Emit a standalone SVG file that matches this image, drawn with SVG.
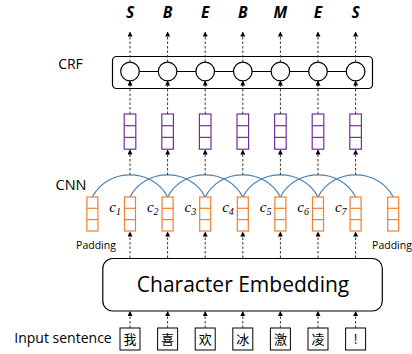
<svg xmlns="http://www.w3.org/2000/svg" width="412" height="354" viewBox="0 0 412 354">
<defs>
<marker id="ah" markerUnits="userSpaceOnUse" markerWidth="5" markerHeight="5" refX="4.5" refY="2.5" orient="auto">
<path d="M0,0 L5,2.5 L0,5 z" fill="#000"/>
</marker>
<style>
.lbl{font-family:"Open Sans","Liberation Sans",sans-serif;fill:#000}
.tag{font-family:"Open Sans","Liberation Sans",sans-serif;font-weight:bold;font-style:italic;font-size:15.5px;text-anchor:middle}
.dash{stroke:#333;stroke-width:1;stroke-dasharray:2.5,2;fill:none;marker-end:url(#ah)}
.arc{stroke:#4a7eb0;stroke-width:1.1;fill:none}
.orange{fill:#fff;stroke:#f07f2e;stroke-width:1.2}
.purple{fill:#fff;stroke:#7030a0;stroke-width:1.2}
.circ{fill:#fff;stroke:#000;stroke-width:1.2}
.cbox{fill:#fff;stroke:#000;stroke-width:1}
.ch{font-family:"Noto Sans CJK SC",sans-serif;font-size:13px;text-anchor:middle}
.cl{font-family:"Liberation Serif",serif;font-style:italic;font-size:15px;text-anchor:end}
</style>
</defs>

<g id="labels">
<text class="lbl" x="70.5" y="68.5" font-size="14" text-anchor="middle">CRF</text>
<text class="lbl" x="71" y="190" font-size="14.5" text-anchor="middle">CNN</text>
<text class="lbl" x="96" y="249" font-size="10.5" text-anchor="middle">Padding</text>
<text class="lbl" x="392" y="249" font-size="10.5" text-anchor="middle">Padding</text>
<text class="lbl" x="63" y="343" font-size="14" text-anchor="middle">Input sentence</text>
</g>

<g id="tags">
<text class="tag" x="130" y="18">S</text>
<text class="tag" x="167.6" y="18">B</text>
<text class="tag" x="205.2" y="18">E</text>
<text class="tag" x="242.8" y="18">B</text>
<text class="tag" x="280.4" y="18">M</text>
<text class="tag" x="318" y="18">E</text>
<text class="tag" x="355.6" y="18">S</text>
</g>

<g id="crf">
<rect x="112.5" y="56.5" width="260" height="32" rx="4" fill="#fff" stroke="#000" stroke-width="1.2"/>
<line x1="130" y1="71.5" x2="355.6" y2="71.5" stroke="#000" stroke-width="1.2"/>
<circle class="circ" cx="130" cy="71.5" r="9.3"/>
<circle class="circ" cx="167.6" cy="71.5" r="9.3"/>
<circle class="circ" cx="205.2" cy="71.5" r="9.3"/>
<circle class="circ" cx="242.8" cy="71.5" r="9.3"/>
<circle class="circ" cx="280.4" cy="71.5" r="9.3"/>
<circle class="circ" cx="318" cy="71.5" r="9.3"/>
<circle class="circ" cx="355.6" cy="71.5" r="9.3"/>
</g>

<g id="cnn-out">
<g transform="translate(130,0)"><rect class="purple" x="-5.8" y="114" width="11.6" height="35.2"/><line x1="-5.8" x2="5.8" y1="125.7" y2="125.7" stroke="#7030a0" stroke-width="1.2"/><line x1="-5.8" x2="5.8" y1="137.4" y2="137.4" stroke="#7030a0" stroke-width="1.2"/></g>
<g transform="translate(167.6,0)"><rect class="purple" x="-5.8" y="114" width="11.6" height="35.2"/><line x1="-5.8" x2="5.8" y1="125.7" y2="125.7" stroke="#7030a0" stroke-width="1.2"/><line x1="-5.8" x2="5.8" y1="137.4" y2="137.4" stroke="#7030a0" stroke-width="1.2"/></g>
<g transform="translate(205.2,0)"><rect class="purple" x="-5.8" y="114" width="11.6" height="35.2"/><line x1="-5.8" x2="5.8" y1="125.7" y2="125.7" stroke="#7030a0" stroke-width="1.2"/><line x1="-5.8" x2="5.8" y1="137.4" y2="137.4" stroke="#7030a0" stroke-width="1.2"/></g>
<g transform="translate(242.8,0)"><rect class="purple" x="-5.8" y="114" width="11.6" height="35.2"/><line x1="-5.8" x2="5.8" y1="125.7" y2="125.7" stroke="#7030a0" stroke-width="1.2"/><line x1="-5.8" x2="5.8" y1="137.4" y2="137.4" stroke="#7030a0" stroke-width="1.2"/></g>
<g transform="translate(280.4,0)"><rect class="purple" x="-5.8" y="114" width="11.6" height="35.2"/><line x1="-5.8" x2="5.8" y1="125.7" y2="125.7" stroke="#7030a0" stroke-width="1.2"/><line x1="-5.8" x2="5.8" y1="137.4" y2="137.4" stroke="#7030a0" stroke-width="1.2"/></g>
<g transform="translate(318,0)"><rect class="purple" x="-5.8" y="114" width="11.6" height="35.2"/><line x1="-5.8" x2="5.8" y1="125.7" y2="125.7" stroke="#7030a0" stroke-width="1.2"/><line x1="-5.8" x2="5.8" y1="137.4" y2="137.4" stroke="#7030a0" stroke-width="1.2"/></g>
<g transform="translate(355.6,0)"><rect class="purple" x="-5.8" y="114" width="11.6" height="35.2"/><line x1="-5.8" x2="5.8" y1="125.7" y2="125.7" stroke="#7030a0" stroke-width="1.2"/><line x1="-5.8" x2="5.8" y1="137.4" y2="137.4" stroke="#7030a0" stroke-width="1.2"/></g>
</g>

<g id="cnn-arcs">
<path class="arc" d="M92.4,197 C107,167.5 153,167.5 167.6,197"/>
<path class="arc" d="M130,197 C144.6,167.5 190.6,167.5 205.2,197"/>
<path class="arc" d="M167.6,197 C182.2,167.5 228.2,167.5 242.8,197"/>
<path class="arc" d="M205.2,197 C219.8,167.5 265.8,167.5 280.4,197"/>
<path class="arc" d="M242.8,197 C257.4,167.5 303.4,167.5 318,197"/>
<path class="arc" d="M280.4,197 C295,167.5 341,167.5 355.6,197"/>
<path class="arc" d="M318,197 C332.6,167.5 378.6,167.5 393.2,197"/>
</g>

<g id="cnn-in">
<g transform="translate(92.4,0)"><rect class="orange" x="-5.5" y="197" width="11" height="34"/><line x1="-5.5" x2="5.5" y1="208.3" y2="208.3" stroke="#f07f2e" stroke-width="1.2"/><line x1="-5.5" x2="5.5" y1="219.6" y2="219.6" stroke="#f07f2e" stroke-width="1.2"/></g>
<g transform="translate(130,0)"><rect class="orange" x="-5.5" y="197" width="11" height="34"/><line x1="-5.5" x2="5.5" y1="208.3" y2="208.3" stroke="#f07f2e" stroke-width="1.2"/><line x1="-5.5" x2="5.5" y1="219.6" y2="219.6" stroke="#f07f2e" stroke-width="1.2"/></g>
<g transform="translate(167.6,0)"><rect class="orange" x="-5.5" y="197" width="11" height="34"/><line x1="-5.5" x2="5.5" y1="208.3" y2="208.3" stroke="#f07f2e" stroke-width="1.2"/><line x1="-5.5" x2="5.5" y1="219.6" y2="219.6" stroke="#f07f2e" stroke-width="1.2"/></g>
<g transform="translate(205.2,0)"><rect class="orange" x="-5.5" y="197" width="11" height="34"/><line x1="-5.5" x2="5.5" y1="208.3" y2="208.3" stroke="#f07f2e" stroke-width="1.2"/><line x1="-5.5" x2="5.5" y1="219.6" y2="219.6" stroke="#f07f2e" stroke-width="1.2"/></g>
<g transform="translate(242.8,0)"><rect class="orange" x="-5.5" y="197" width="11" height="34"/><line x1="-5.5" x2="5.5" y1="208.3" y2="208.3" stroke="#f07f2e" stroke-width="1.2"/><line x1="-5.5" x2="5.5" y1="219.6" y2="219.6" stroke="#f07f2e" stroke-width="1.2"/></g>
<g transform="translate(280.4,0)"><rect class="orange" x="-5.5" y="197" width="11" height="34"/><line x1="-5.5" x2="5.5" y1="208.3" y2="208.3" stroke="#f07f2e" stroke-width="1.2"/><line x1="-5.5" x2="5.5" y1="219.6" y2="219.6" stroke="#f07f2e" stroke-width="1.2"/></g>
<g transform="translate(318,0)"><rect class="orange" x="-5.5" y="197" width="11" height="34"/><line x1="-5.5" x2="5.5" y1="208.3" y2="208.3" stroke="#f07f2e" stroke-width="1.2"/><line x1="-5.5" x2="5.5" y1="219.6" y2="219.6" stroke="#f07f2e" stroke-width="1.2"/></g>
<g transform="translate(355.6,0)"><rect class="orange" x="-5.5" y="197" width="11" height="34"/><line x1="-5.5" x2="5.5" y1="208.3" y2="208.3" stroke="#f07f2e" stroke-width="1.2"/><line x1="-5.5" x2="5.5" y1="219.6" y2="219.6" stroke="#f07f2e" stroke-width="1.2"/></g>
<g transform="translate(393.2,0)"><rect class="orange" x="-5.5" y="197" width="11" height="34"/><line x1="-5.5" x2="5.5" y1="208.3" y2="208.3" stroke="#f07f2e" stroke-width="1.2"/><line x1="-5.5" x2="5.5" y1="219.6" y2="219.6" stroke="#f07f2e" stroke-width="1.2"/></g>
</g>

<g id="c-labels">
<text class="cl" x="121" y="212">c<tspan font-size="10" dy="3">1</tspan></text>
<text class="cl" x="158.6" y="212">c<tspan font-size="10" dy="3">2</tspan></text>
<text class="cl" x="196.2" y="212">c<tspan font-size="10" dy="3">3</tspan></text>
<text class="cl" x="233.8" y="212">c<tspan font-size="10" dy="3">4</tspan></text>
<text class="cl" x="271.4" y="212">c<tspan font-size="10" dy="3">5</tspan></text>
<text class="cl" x="309" y="212">c<tspan font-size="10" dy="3">6</tspan></text>
<text class="cl" x="346.6" y="212">c<tspan font-size="10" dy="3">7</tspan></text>
</g>

<g id="embedding">
<rect x="102.8" y="258.5" width="279.5" height="52.5" rx="10" fill="#fff" stroke="#000" stroke-width="1.2"/>
<text class="lbl" x="243" y="292" font-size="21" text-anchor="middle">Character Embedding</text>
</g>

<g id="input">
<g><rect class="cbox" x="120" y="328" width="20" height="22"/><text class="ch" x="130" y="343.5">我</text></g>
<g><rect class="cbox" x="157.6" y="328" width="20" height="22"/><text class="ch" x="167.6" y="343.5">喜</text></g>
<g><rect class="cbox" x="195.2" y="328" width="20" height="22"/><text class="ch" x="205.2" y="343.5">欢</text></g>
<g><rect class="cbox" x="232.8" y="328" width="20" height="22"/><text class="ch" x="242.8" y="343.5">冰</text></g>
<g><rect class="cbox" x="270.4" y="328" width="20" height="22"/><text class="ch" x="280.4" y="343.5">激</text></g>
<g><rect class="cbox" x="308" y="328" width="20" height="22"/><text class="ch" x="318" y="343.5">凌</text></g>
<g><rect class="cbox" x="345.6" y="328" width="20" height="22"/><text class="ch" x="355.6" y="343.5">!</text></g>
</g>

<g id="connectors">
<line class="dash" x1="130" y1="62" x2="130" y2="32"/>
<line class="dash" x1="167.6" y1="62" x2="167.6" y2="32"/>
<line class="dash" x1="205.2" y1="62" x2="205.2" y2="32"/>
<line class="dash" x1="242.8" y1="62" x2="242.8" y2="32"/>
<line class="dash" x1="280.4" y1="62" x2="280.4" y2="32"/>
<line class="dash" x1="318" y1="62" x2="318" y2="32"/>
<line class="dash" x1="355.6" y1="62" x2="355.6" y2="32"/>

<line class="dash" x1="130" y1="114" x2="130" y2="81"/>
<line class="dash" x1="167.6" y1="114" x2="167.6" y2="81"/>
<line class="dash" x1="205.2" y1="114" x2="205.2" y2="81"/>
<line class="dash" x1="242.8" y1="114" x2="242.8" y2="81"/>
<line class="dash" x1="280.4" y1="114" x2="280.4" y2="81"/>
<line class="dash" x1="318" y1="114" x2="318" y2="81"/>
<line class="dash" x1="355.6" y1="114" x2="355.6" y2="81"/>

<line class="dash" x1="130" y1="175" x2="130" y2="150"/>
<line class="dash" x1="167.6" y1="175" x2="167.6" y2="150"/>
<line class="dash" x1="205.2" y1="175" x2="205.2" y2="150"/>
<line class="dash" x1="242.8" y1="175" x2="242.8" y2="150"/>
<line class="dash" x1="280.4" y1="175" x2="280.4" y2="150"/>
<line class="dash" x1="318" y1="175" x2="318" y2="150"/>
<line class="dash" x1="355.6" y1="175" x2="355.6" y2="150"/>

<line class="dash" x1="130" y1="258" x2="130" y2="232"/>
<line class="dash" x1="167.6" y1="258" x2="167.6" y2="232"/>
<line class="dash" x1="205.2" y1="258" x2="205.2" y2="232"/>
<line class="dash" x1="242.8" y1="258" x2="242.8" y2="232"/>
<line class="dash" x1="280.4" y1="258" x2="280.4" y2="232"/>
<line class="dash" x1="318" y1="258" x2="318" y2="232"/>
<line class="dash" x1="355.6" y1="258" x2="355.6" y2="232"/>

<line class="dash" x1="130" y1="328" x2="130" y2="311.5"/>
<line class="dash" x1="167.6" y1="328" x2="167.6" y2="311.5"/>
<line class="dash" x1="205.2" y1="328" x2="205.2" y2="311.5"/>
<line class="dash" x1="242.8" y1="328" x2="242.8" y2="311.5"/>
<line class="dash" x1="280.4" y1="328" x2="280.4" y2="311.5"/>
<line class="dash" x1="318" y1="328" x2="318" y2="311.5"/>
<line class="dash" x1="355.6" y1="328" x2="355.6" y2="311.5"/>
</g>
</svg>
